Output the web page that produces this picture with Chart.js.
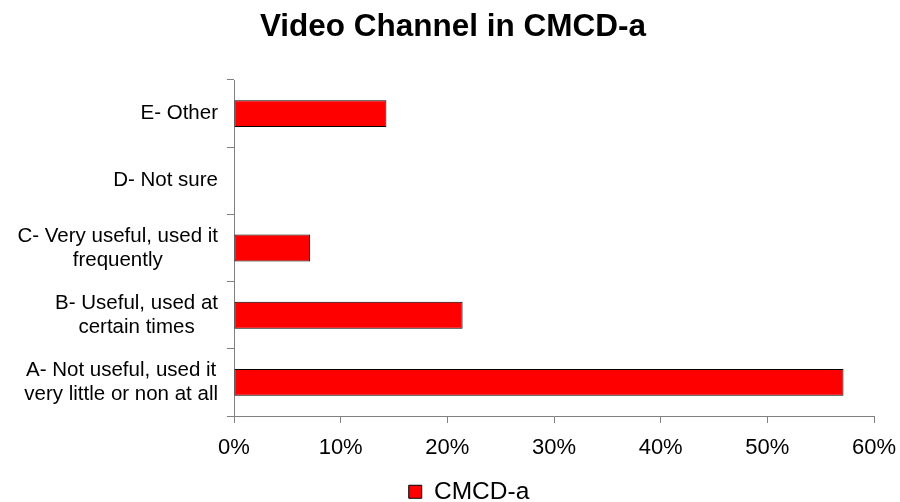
<!DOCTYPE html>
<html>
<head>
<meta charset="utf-8">
<title>Video Channel in CMCD-a</title>
<script src="https://cdn.jsdelivr.net/npm/chart.js@4/dist/chart.umd.min.js"></script>
<style>
  html, body { margin: 0; padding: 0; background: #fff; }
  #wrap { width: 900px; height: 502px; }
</style>
</head>
<body>
<div id="wrap"><canvas id="barChart" width="900" height="502"></canvas></div>
<script>
const chartTitle = "Video Channel in CMCD-a";
const seriesName = "CMCD-a";
const categories = [
  ["E- Other"],
  ["D- Not sure"],
  ["C- Very useful, used it", "frequently"],
  ["B- Useful, used at", "certain times"],
  ["A- Not useful, used it", "very little or non at all"],
];
const shares = [14.29, 0, 7.14, 21.43, 57.14];
const xTickLabels = ["0%", "10%", "20%", "30%", "40%", "50%", "60%"];

const FONT = '"Liberation Sans", Arial, sans-serif';
const AXIS_GREY = "#808080";

Chart.defaults.font.family = FONT;
Chart.defaults.color = "#000";

// category labels: lines centred on each other, block right-aligned to the axis
const categoryLabels = {
  id: "categoryLabels",
  afterLayout(chart) {
    // legend sits a bit lower and right of the default spot
    const legend = chart.legend;
    legend.top += 12;
    legend.bottom += 12;
    legend.left += 16;
    legend.right += 16;
  },
  afterDraw(chart) {
    const ctx = chart.ctx;
    const yScale = chart.scales.y;
    const rightEdge = yScale.right - 16;
    const lineHeight = 24;
    ctx.save();
    ctx.font = "20.5px " + FONT;
    ctx.fillStyle = "#000";
    ctx.textAlign = "center";
    ctx.textBaseline = "middle";
    categories.forEach((lines, i) => {
      const y = yScale.getPixelForValue(i);
      const blockWidth = Math.max(...lines.map((l) => ctx.measureText(l).width));
      const cx = rightEdge - blockWidth / 2;
      lines.forEach((line, j) => {
        ctx.fillText(line, cx, y + (j - (lines.length - 1) / 2) * lineHeight);
      });
    });
    ctx.restore();
  },
};

const ctx = document.getElementById("barChart").getContext("2d");
const barChart = new Chart(ctx, {
  type: "bar",
  data: {
    labels: categories,
    datasets: [
      {
        label: seriesName,
        data: shares,
        backgroundColor: "#FF0000",
        borderColor: "#000000",
        borderWidth: 1,
        borderSkipped: false,
        barPercentage: 0.4,
        categoryPercentage: 1,
      },
    ],
  },
  options: {
    indexAxis: "y",
    responsive: false,
    animation: false,
    layout: {
      padding: { left: 32, right: 26, top: 0, bottom: 0 },
    },
    plugins: {
      title: {
        display: true,
        text: chartTitle,
        color: "#000",
        font: { size: 31.5, weight: "bold" },
        padding: { top: 8, bottom: 34.2 },
      },
      legend: {
        position: "bottom",
        labels: {
          color: "#000",
          font: { size: 24.5 },
          boxWidth: 13,
          boxHeight: 13,
          padding: 6,
        },
      },
      tooltip: { enabled: false },
    },
    scales: {
      x: {
        min: 0,
        max: 60,
        ticks: {
          stepSize: 10,
          padding: 12,
          font: { size: 22 },
          color: "#000",
          callback: (value, index) => xTickLabels[index],
        },
        grid: {
          drawOnChartArea: false,
          color: AXIS_GREY,
          tickLength: 7,
        },
        border: { color: AXIS_GREY, width: 1 },
        afterFit: (scale) => {
          scale.height = 45.5;
          // end labels fit inside the layout padding already
          scale.paddingLeft = 0;
          scale.paddingRight = 0;
        },
      },
      y: {
        ticks: { display: false },
        grid: {
          offset: true,
          drawOnChartArea: false,
          color: AXIS_GREY,
          tickLength: 7,
        },
        border: { color: AXIS_GREY, width: 1 },
        afterFit: (scale) => {
          scale.width = 202;
        },
      },
    },
  },
  plugins: [categoryLabels],
});
</script>
</body>
</html>
